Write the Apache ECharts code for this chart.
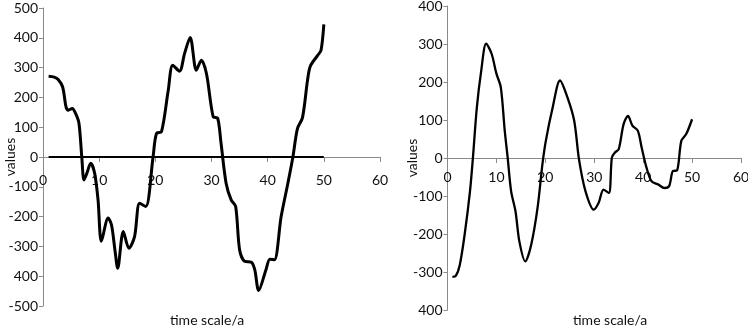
<!DOCTYPE html>
<html><head><meta charset="utf-8">
<script src="https://cdn.jsdelivr.net/npm/echarts@6/dist/echarts.min.js"></script>
<style>html,body{margin:0;padding:0;background:#fff}#c{width:748px;height:329px}</style>
</head><body><div id="c"></div>
<script>
const leftX = [1,2,2.7,3.5,4.1,4.5,5.2,5.8,6.4,6.9,7.3,7.8,8.5,9.2,9.8,10.4,11.6,12.2,12.8,13.3,14.3,15.3,16.3,17.2,18.3,19.6,20.2,21.1,22.3,23.1,24.3,25.2,26.2,27.3,28.2,29.1,30.3,31.1,31.7,32.6,33.5,34.3,35.0,35.9,37.1,37.7,38.4,39.7,40.4,41.2,42.4,43.6,44.5,45.3,46.2,47.1,47.6,48.9,49.5,50];
const leftY = [271,268,260,235,168,157,163,146,113,1,-77,-55,-21,-55,-144,-283,-205,-228,-311,-373,-250,-306,-267,-155,-166,1,79,85,224,308,288,347,401,291,325,280,135,130,46,-88,-144,-166,-311,-350,-353,-378,-448,-378,-343,-345,-200,-88,1,95,132,258,305,341,358,445];
const leftZeroX = [1, 50];
const leftZeroY = [0, 0];
const rightX = [1,1.7,2.5,3.5,4.6,5.2,6.0,6.9,7.9,9.0,10.0,10.9,11.7,12.3,13.0,13.9,14.7,15.9,17.1,18.4,19.4,20.1,21.5,23.0,24.5,25.9,26.9,28.2,29.9,30.9,31.9,33.0,33.6,34.2,35.0,36.0,36.9,37.8,38.9,39.7,40.7,41.7,43.1,44.3,45.3,46.1,46.9,47.8,48.8,50];
const rightY = [-313,-310,-282,-202,-87,1,133,230,301,275,222,186,72,1,-87,-140,-220,-272,-229,-132,-17,45,133,204,160,98,-5,-87,-136,-118,-83,-92,1,14,23,89,111,85,72,27,-26,-61,-70,-79,-74,-34,-33,45,63,102];
const xTickLabels = ['0','10','20','30','40','50','60'];
const leftYTickLabels = ['-500','400','-300','-200','-100','0','100','200','300','400','500'];
const rightYTickLabels = ['400','-300','-200','-100','0','100','200','300','400'];
const xAxisTitle = 'time scale/a';
const yAxisTitle = 'values';

const FONT = 'Lato';
const TXT = '#111';
const AX = '#8a8a8a';
function pairs(xs, ys){ return xs.map((x,i)=>[x, ys[i]]); }

const grids = [
  {left: 43, top: 8, width: 337, height: 298, containLabel: false, outerBoundsMode: 'none'},
  {left: 447.5, top: 6, width: 293.5, height: 304, containLabel: false, outerBoundsMode: 'none'}
];
const yRanges = [[-500, 500], [-400, 400]];

function xAxisCfg(gi, margin){
  const [mn, mx] = yRanges[gi];
  // place the x axis where y = 0 (crossing at zero)
  const off = -grids[gi].height * (0 - mn) / (mx - mn);
  return {
    gridIndex: gi, type: 'value', min: 0, max: 60, interval: 10,
    position: 'bottom', offset: off,
    axisLine: {onZero: false, lineStyle: {color: AX, width: 1}},
    axisTick: {show: true, length: 5, lineStyle: {color: AX}},
    splitLine: {show: false},
    axisLabel: {margin: margin, color: TXT, fontFamily: FONT, fontSize: 14,
      formatter: v => xTickLabels[Math.round(v/10)]}
  };
}
function yAxisCfg(gi, labels, gap){
  const [min, max] = yRanges[gi];
  return {
    gridIndex: gi, type: 'value', min: min, max: max, interval: 100,
    name: yAxisTitle, nameLocation: 'middle', nameGap: gap, nameRotate: 90, nameMoveOverlap: false,
    nameTextStyle: {color: TXT, fontFamily: FONT, fontSize: 14},
    axisLine: {show: true, onZero: false, lineStyle: {color: AX, width: 1}},
    axisTick: {show: true, length: 4, lineStyle: {color: AX}},
    splitLine: {show: false},
    axisLabel: {margin: 5, color: TXT, fontFamily: FONT, fontSize: 14,
      formatter: v => labels[Math.round((v - min)/100)]}
  };
}

const chart = echarts.init(document.getElementById('c'), null, {renderer: 'canvas'});
chart.setOption({
  animation: false,
  backgroundColor: '#fff',
  grid: grids,
  xAxis: [xAxisCfg(0, 16), xAxisCfg(1, 12)],
  yAxis: [yAxisCfg(0, leftYTickLabels, 26), yAxisCfg(1, rightYTickLabels, 28)],
  graphic: [
    {type: 'text', left: 209 - 39, top: 313, style: {text: xAxisTitle, fill: TXT, font: '14px ' + FONT}},
    {type: 'text', left: 612 - 39, top: 313, style: {text: xAxisTitle, fill: TXT, font: '14px ' + FONT}}
  ],
  series: [
    {type: 'line', xAxisIndex: 0, yAxisIndex: 0, data: pairs(leftZeroX, leftZeroY), showSymbol: false,
     lineStyle: {color: '#000', width: 2}},
    {type: 'line', xAxisIndex: 0, yAxisIndex: 0, data: pairs(leftX, leftY), showSymbol: false, smooth: 0.3,
     lineStyle: {color: '#000', width: 3}},
    {type: 'line', xAxisIndex: 1, yAxisIndex: 1, data: pairs(rightX, rightY), showSymbol: false, smooth: 0.3,
     lineStyle: {color: '#000', width: 2.3}}
  ]
});
</script>
</body></html>
